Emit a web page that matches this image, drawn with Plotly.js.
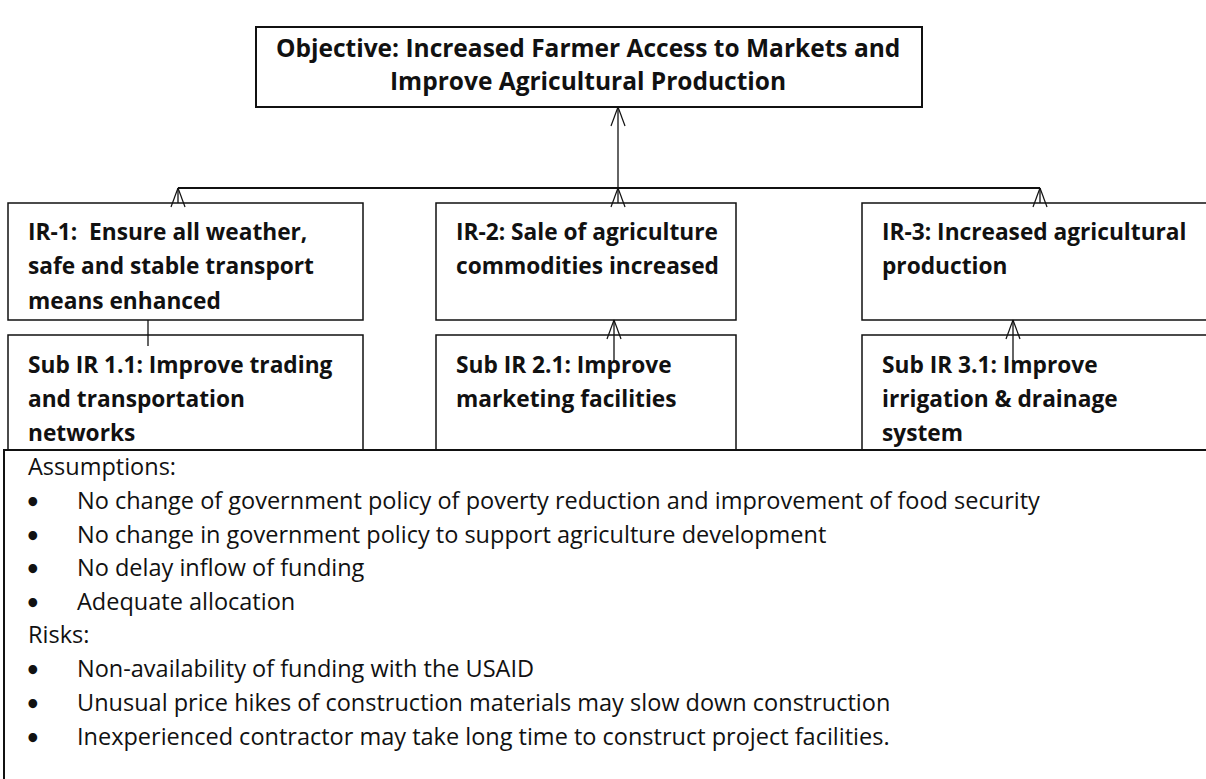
<!DOCTYPE html>
<html>
<head>
<meta charset="utf-8">
<script src="https://cdn.plot.ly/plotly-3.0.1.min.js"></script>
<style>html,body{margin:0;padding:0;background:#fff;}#chart{width:1206px;height:779px;}</style>
</head>
<body>
<div id="chart"></div>
<script>
// ---- content ----
const objectiveLines = ["Objective: Increased Farmer Access to Markets and", "Improve Agricultural Production"];
const irLines = [
  ["IR-1:  Ensure all weather,", "safe and stable transport", "means enhanced"],
  ["IR-2: Sale of agriculture", "commodities increased"],
  ["IR-3: Increased agricultural", "production"]
];
const subLines = [
  ["Sub IR 1.1: Improve trading", "and transportation", "networks"],
  ["Sub IR 2.1: Improve", "marketing facilities"],
  ["Sub IR 3.1: Improve", "irrigation & drainage", "system"]
];
const assumptionsTitle = "Assumptions:";
const assumptions = [
  "No change of government policy of poverty reduction and improvement of food security",
  "No change in government policy to support agriculture development",
  "No delay inflow of funding",
  "Adequate allocation"
];
const risksTitle = "Risks:";
const risks = [
  "Non-availability of funding with the USAID",
  "Unusual price hikes of construction materials may slow down construction",
  "Inexperienced contractor may take long time to construct project facilities."
];

// ---- layout geometry (pixels, y downward) ----
const W = 1206, H = 779;
const objBox = {x0: 256, x1: 922, y0: 27, y1: 107};
const colX = [[8, 363], [436, 736], [862, 1212]];
const irY = [203, 320];
const subY = [335, 450];
const busY = 188;
const busX = [178, 618, 1040];
const subArrowX = [null, 614, 1013];
const bottomBox = {x0: 4, x1: 1212, y0: 450, y1: 800};

const black = '#111';
const FAM = '"Open Sans", Lato, sans-serif';
// pick font sizes so the text widths match the reference
const cvs = document.createElement('canvas').getContext('2d');
function fit(t, weight, target) {
  cvs.font = weight + ' 100px ' + FAM;
  return Math.round(100 * target / cvs.measureText(t).width * 10) / 10;
}
const objFont = {family: FAM, size: fit(objectiveLines[0], 'bold', 624), color: black};
const boldFont = {family: FAM, size: fit(irLines[0][0], 'bold', 280), color: black};
const bodyFont = {family: FAM, size: fit(assumptions[0], 'normal', 963), color: black};
const bulletFont = {family: 'Lato, sans-serif', size: 20, color: black};

const shapes = [];
const annotations = [];
function rect(x0, y0, x1, y1, w) {
  shapes.push({type: 'rect', xref: 'x', yref: 'y', x0, y0, x1, y1, line: {color: black, width: w || 1.5}, fillcolor: 'rgba(0,0,0,0)'});
}
function line(x0, y0, x1, y1, w) {
  shapes.push({type: 'line', xref: 'x', yref: 'y', x0, y0, x1, y1, line: {color: black, width: w || 1.3}});
}
function openHead(x, y) { // tip at (x,y) pointing up
  line(x, y, x - 7, y + 19, 1.2);
  line(x, y, x + 7, y + 19, 1.2);
}
function text(x, y, t, font, anchor) {
  annotations.push({xref: 'x', yref: 'y', x, y, text: t, showarrow: false, xanchor: anchor || 'left', yanchor: 'middle', align: anchor || 'left', font});
}

// objective
rect(objBox.x0, objBox.y0, objBox.x1, objBox.y1, 2);
objectiveLines.forEach((t, i) => text((objBox.x0 + objBox.x1) / 2 - 1, 47 + i * 33, '<b>' + t + '</b>', objFont, 'center'));
// main arrow to objective
line(618, busY, 618, objBox.y1);
openHead(618, objBox.y1);
// bus
line(busX[0], busY, busX[2], busY, 2);
busX.forEach(x => { line(x, busY, x, irY[0]); openHead(x, busY); });

// IR boxes and sub boxes
colX.forEach((c, k) => {
  rect(c[0], irY[0], c[1], irY[1]);
  rect(c[0], subY[0], c[1], subY[1]);
  irLines[k].forEach((t, i) => text(c[0] + 18, 231 + i * 34.5, '<b>' + t + '</b>', boldFont));
  subLines[k].forEach((t, i) => text(c[0] + 18, 364 + i * 34, '<b>' + t + '</b>', boldFont));
  if (subArrowX[k] !== null) {
    line(subArrowX[k], 362, subArrowX[k], irY[1]);
    openHead(subArrowX[k], irY[1]);
  }
});
line(148, irY[1], 148, 346);

// bottom box
shapes.push({type: 'rect', xref: 'x', yref: 'y', x0: bottomBox.x0, y0: bottomBox.y0, x1: bottomBox.x1, y1: bottomBox.y1, line: {color: black, width: 2}, fillcolor: '#fff', layer: 'above'});
text(26, 466, assumptionsTitle, bodyFont);
assumptions.forEach((t, i) => { text(33, 500 + i * 33.5, '<b>•</b>', bulletFont, 'center'); text(75, 500 + i * 33.5, t, bodyFont); });
text(26, 634, risksTitle, bodyFont);
risks.forEach((t, i) => { text(33, 668 + i * 34, '<b>•</b>', bulletFont, 'center'); text(75, 668 + i * 34, t, bodyFont); });

const layout = {
  width: W, height: H,
  margin: {l: 0, r: 0, t: 0, b: 0, pad: 0},
  paper_bgcolor: '#fff', plot_bgcolor: '#fff',
  xaxis: {range: [0, W], visible: false, fixedrange: true},
  yaxis: {range: [H, 0], visible: false, fixedrange: true},
  showlegend: false,
  shapes, annotations
};
Plotly.newPlot('chart', [], layout, {displayModeBar: false, staticPlot: true});
</script>
</body>
</html>
